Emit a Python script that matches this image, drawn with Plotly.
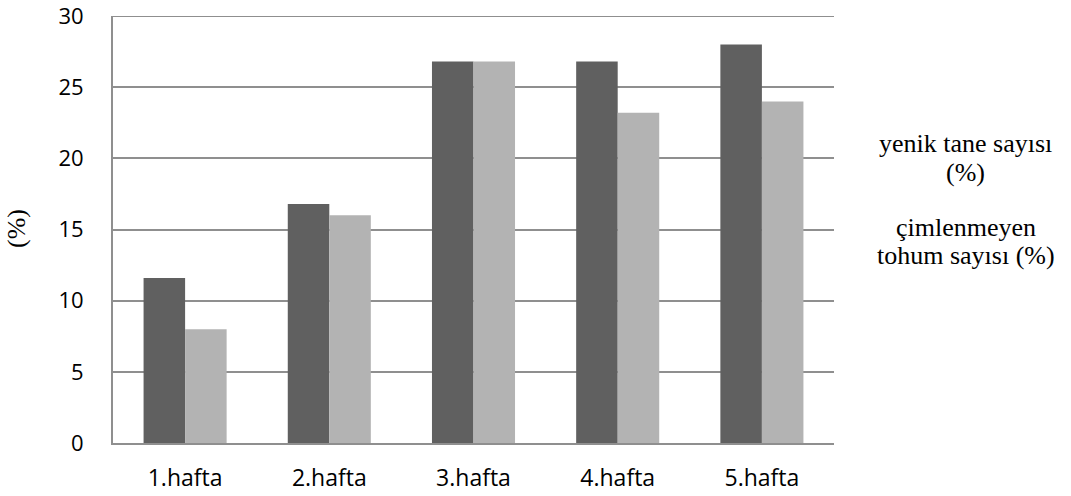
import plotly.graph_objects as go

# Weekly percentages
weeks = ["1.hafta", "2.hafta", "3.hafta", "4.hafta", "5.hafta"]
series_names = ["yenik tane sayısı<br>(%)", "çimlenmeyen<br>tohum sayısı (%)"]
yenik = [11.6, 16.8, 26.8, 26.8, 28.0]
cimlenmeyen = [8.0, 16.0, 26.8, 23.2, 24.0]
y_max, y_step = 30, 5
y_title = "(%)"

colors = ["#606060", "#b3b3b3"]
grid_color = "#8f8f8f"

fig = go.Figure()
for name, vals, col in zip(series_names, [yenik, cimlenmeyen], colors):
    fig.add_trace(go.Bar(
        x=weeks, y=vals, name=name,
        marker=dict(color=col, line=dict(width=0)),
        showlegend=False,
    ))

W, H = 1071, 496
L, R, T, B = 113, 237, 16, 53

fig.update_layout(
    width=W, height=H,
    margin=dict(l=L, r=R, t=T, b=B, autoexpand=False),
    paper_bgcolor="white", plot_bgcolor="white",
    barmode="group", bargap=0.424, bargroupgap=0,
    font=dict(family="Open Sans", size=23, color="#000000"),
)
fig.update_xaxes(
    showline=True, linecolor=grid_color, linewidth=2,
    showgrid=False, ticks="", ticklabelstandoff=13,
    tickfont=dict(family="Open Sans", size=23, color="#000000"),
)
fig.update_yaxes(
    range=[0, y_max], autorange=False, tickmode="linear", tick0=0, dtick=y_step,
    showline=True, linecolor=grid_color, linewidth=2, mirror=False,
    showgrid=True, gridcolor=grid_color, gridwidth=2,
    zeroline=False, ticks="", ticklabelstandoff=23, ticklabeloverflow="allow",
    tickfont=dict(family="Open Sans", size=22, color="#000000"),
)
# top grid line sits on the plot edge; draw it along the 30 level
fig.add_shape(type="line", xref="paper", yref="y", x0=0, x1=1, y0=y_max, y1=y_max,
              line=dict(color=grid_color, width=2), layer="below")

# Axis title and series labels (each label line placed on its own)
serif = dict(family="Liberation Serif", size=26, color="#000000")
fig.add_annotation(
    text=y_title, textangle=-90, xref="paper", yref="paper",
    x=(16 - L) / (W - L - R), y=(H - B - 229) / (H - T - B),
    showarrow=False, font=serif, xanchor="center", yanchor="middle",
)
line_centers = [[143, 173], [227, 256]]
for name, ys in zip(series_names, line_centers):
    for line, yc in zip(name.split("<br>"), ys):
        fig.add_annotation(
            text=line, xref="paper", yref="paper",
            x=(966 - L) / (W - L - R), y=(H - B - yc) / (H - T - B),
            showarrow=False, font=serif, align="center",
            xanchor="center", yanchor="middle",
        )

fig.write_html("out.html")
